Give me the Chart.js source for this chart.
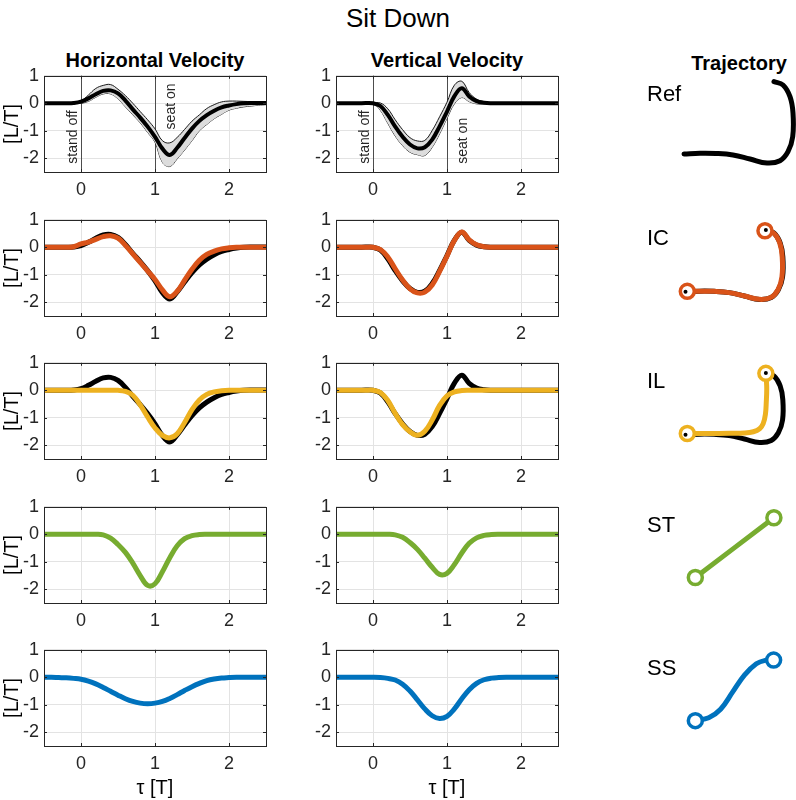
<!DOCTYPE html>
<html>
<head>
<meta charset="utf-8">
<script src="https://cdn.jsdelivr.net/npm/chart.js@4.4.1/dist/chart.umd.min.js"></script>
<style>
  body { margin: 0; background: #fff; width: 796px; height: 800px; position: relative; overflow: hidden;
         font-family: "Liberation Sans", Arial, sans-serif; color: #000; }
  canvas { position: absolute; }
  .t { position: absolute; white-space: nowrap; transform: translate(-50%, -50%); }
  .n { position: absolute; white-space: nowrap; transform: translate(0, -50%); font-size: 22px; }
</style>
</head>
<body>
<div class="t" style="left:398px;top:18px;font-size:26px">Sit Down</div>
<div class="t" style="left:155px;top:60px;font-size:20px;font-weight:bold">Horizontal Velocity</div>
<div class="t" style="left:447px;top:60px;font-size:20px;font-weight:bold">Vertical Velocity</div>
<div class="t" style="left:739px;top:63px;font-size:20px;font-weight:bold">Trajectory</div>

<script>
// time axis (normalised) and ticks
const tau = [-0.5,-0.4,-0.3,-0.2,-0.1,0,0.1,0.2,0.3,0.4,0.5,0.6,0.7,0.8,0.9,1,1.1,1.2,1.3,1.4,1.5,1.6,1.7,1.8,1.9,2,2.1,2.2,2.3,2.4,2.5];
const xTicks = [0, 1, 2];
const yTicks = [-2, -1, 0, 1];

// reference (mean + spread)
const hRef   = [0,0,0,0,0.01,0.06,0.18,0.33,0.45,0.47,0.36,0.1,-0.22,-0.52,-0.85,-1.22,-1.65,-1.88,-1.62,-1.26,-0.92,-0.64,-0.43,-0.27,-0.15,-0.08,-0.03,0,0.01,0.01,0.01];
const hUpper = [0,0,0,0,0.02,0.08,0.3,0.54,0.65,0.68,0.51,0.28,0,-0.3,-0.6,-0.93,-1.36,-1.44,-1.24,-0.95,-0.65,-0.42,-0.19,-0.05,0.05,0.08,0.08,0.07,0.06,0.05,0.05];
const hLower = [0,0,0,0,-0.01,0,0.07,0.22,0.34,0.34,0.16,-0.13,-0.42,-0.71,-1.06,-1.42,-2.15,-2.3,-2.02,-1.7,-1.36,-1.0,-0.77,-0.56,-0.4,-0.25,-0.18,-0.13,-0.1,-0.07,-0.05];
const vRef   = [0,0,0,0,0.01,0,-0.1,-0.42,-0.85,-1.22,-1.5,-1.64,-1.6,-1.32,-0.84,-0.3,0.26,0.55,0.25,0.08,0.02,0,0,0,0,0,0,0,0,0,0];
const vUpper = [0,0,0,0,0.01,0.01,0.01,-0.2,-0.6,-0.96,-1.25,-1.37,-1.35,-0.99,-0.49,0.04,0.66,0.8,0.39,0.15,0.06,0.01,0,0,0,0,0,0,0,0,0];
const vLower = [0,0,0,0,0,0,-0.26,-0.73,-1.19,-1.54,-1.78,-1.87,-1.9,-1.6,-1.11,-0.55,-0.02,0.21,0.06,-0.02,-0.02,-0.01,-0.01,-0.01,-0.01,-0.01,-0.01,-0.01,-0.01,-0.01,-0.01];

// models
const hIC = [0,0,0,0,0.02,0.12,0.19,0.29,0.39,0.42,0.33,0.07,-0.24,-0.55,-0.86,-1.17,-1.55,-1.8,-1.6,-1.2,-0.8,-0.47,-0.26,-0.14,-0.06,-0.02,0,0,0,0,0];
const vIC = [0,0,0,0,0,0,-0.08,-0.35,-0.78,-1.19,-1.51,-1.66,-1.63,-1.37,-0.88,-0.32,0.25,0.56,0.27,0.09,0.02,0,0,0,0,0,0,0,0,0,0];
const hIL = [0,0,0,0,0,0,0,0,0,0,0,-0.04,-0.18,-0.53,-0.97,-1.37,-1.64,-1.73,-1.58,-1.17,-0.7,-0.35,-0.15,-0.06,-0.02,0,0,0,0,0,0];
const vIL = [0,0,0,0,0,0,-0.08,-0.37,-0.84,-1.25,-1.51,-1.64,-1.49,-1.08,-0.55,-0.2,-0.06,-0.01,0,0,0,0,0,0,0,0,0,0,0,0,0];
const hST = [0,0,0,0,0,0,0,0,-0.02,-0.14,-0.37,-0.66,-1.05,-1.5,-1.86,-1.8,-1.36,-0.85,-0.42,-0.16,-0.05,-0.01,0,0,0,0,0,0,0,0,0];
const vST = [0,0,0,0,0,0,0,0,-0.02,-0.11,-0.3,-0.55,-0.87,-1.2,-1.46,-1.42,-1.1,-0.68,-0.33,-0.13,-0.04,-0.01,0,0,0,0,0,0,0,0,0];
const hSS = [0,0,-0.01,-0.02,-0.04,-0.07,-0.14,-0.24,-0.37,-0.51,-0.65,-0.78,-0.88,-0.94,-0.96,-0.94,-0.88,-0.77,-0.63,-0.48,-0.34,-0.22,-0.12,-0.06,-0.025,-0.01,0,0,0,0,0];
const vSS = [0,0,0,0,0,0,-0.01,-0.04,-0.1,-0.25,-0.5,-0.82,-1.15,-1.4,-1.5,-1.42,-1.15,-0.78,-0.45,-0.22,-0.09,-0.03,-0.01,0,0,0,0,0,0,0,0];

const eventTimes = [0, 1];
const eventNames = ["stand off", "seat on"];

// trajectories [L]
const refTrajX = [0, 0.16, 0.32, 0.49, 0.66, 0.83, 0.96, 1.04, 1.087, 1.09, 1.06, 0.99, 0.9];
const refTrajY = [0.09, 0.097, 0.095, 0.08, 0.04, 0, 0.023, 0.113, 0.263, 0.5, 0.663, 0.78, 0.813];
const icTrajX = [0.02, 0.16, 0.32, 0.49, 0.66, 0.83, 0.958, 1.036, 1.08, 1.083, 1.055, 0.988, 0.89];
const icTrajY = [0.095, 0.097, 0.095, 0.08, 0.04, 0.001, 0.024, 0.113, 0.263, 0.5, 0.663, 0.777, 0.805];
const ilTrajX = [0.02, 0.25, 0.49, 0.66, 0.76, 0.83, 0.87, 0.895, 0.905, 0.91, 0.905, 0.9];
const ilTrajY = [0.105, 0.105, 0.107, 0.11, 0.125, 0.16, 0.22, 0.33, 0.48, 0.63, 0.74, 0.81];
const stTrajX = [0.11, 0.99];
const stTrajY = [0.105, 0.805];
const ssTrajX = [0.11, 0.26, 0.393, 0.527, 0.66, 0.793, 0.893, 0.987];
const ssTrajY = [0.103, 0.137, 0.237, 0.437, 0.637, 0.77, 0.81, 0.813];

const colors = { Ref: "#000000", IC: "#D95319", IL: "#EDB120", ST: "#77AC30", SS: "#0072BD" };

const FONT = "'Liberation Sans', Arial, sans-serif";
const pts = ys => tau.map((t, i) => ({ x: t, y: ys[i] }));
const path = (xs, ys) => xs.map((x, i) => ({ x: x, y: ys[i] }));

// matlab style box + inward ticks
const boxPlugin = {
  id: "box",
  afterDatasetsDraw(chart) {
    const a = chart.chartArea, c = chart.ctx;
    const xs = chart.scales.x, ys = chart.scales.y;
    c.save();
    c.strokeStyle = "#262626";
    c.lineWidth = 1;
    c.strokeRect(Math.round(a.left) + 0.5, Math.round(a.top) + 0.5,
                 Math.round(a.right) - Math.round(a.left), Math.round(a.bottom) - Math.round(a.top));
    c.beginPath();
    xTicks.forEach(v => {
      const px = Math.round(xs.getPixelForValue(v)) + 0.5;
      c.moveTo(px, a.bottom); c.lineTo(px, a.bottom - 3);
      c.moveTo(px, a.top); c.lineTo(px, a.top + 3);
    });
    yTicks.forEach(v => {
      const py = Math.round(ys.getPixelForValue(v)) + 0.5;
      c.moveTo(a.left, py); c.lineTo(a.left + 3, py);
      c.moveTo(a.right, py); c.lineTo(a.right - 3, py);
    });
    c.stroke();
    c.restore();
  }
};

// event lines with rotated labels (first row only)
const eventPlugin = {
  id: "events",
  beforeDatasetsDraw(chart, args, opts) {
    const a = chart.chartArea, c = chart.ctx;
    const xs = chart.scales.x, ys = chart.scales.y;
    c.save();
    eventTimes.forEach((t, i) => {
      const px = Math.round(xs.getPixelForValue(t)) + 0.5;
      c.strokeStyle = "#4d4d4d";
      c.lineWidth = 1;
      c.beginPath(); c.moveTo(px, a.top); c.lineTo(px, a.bottom); c.stroke();
      c.save();
      const bx = i === 0 ? px - 5 : px + 19;
      c.translate(bx, ys.getPixelForValue(opts.labelY[i]));
      c.rotate(-Math.PI / 2);
      c.fillStyle = "#262626";
      c.font = "14px " + FONT;
      c.textAlign = "left";
      c.textBaseline = "alphabetic";
      c.fillText(eventNames[i], 0, 0);
      c.restore();
    });
    c.restore();
  }
};

function makeCanvas(left, top, w, h) {
  const cv = document.createElement("canvas");
  cv.width = w; cv.height = h;
  cv.style.left = left + "px"; cv.style.top = top + "px";
  cv.style.width = w + "px"; cv.style.height = h + "px";
  document.body.appendChild(cv);
  return cv;
}

function velocityChart(col, row, datasets, extra) {
  const plotTop = Math.round(72 + 143.5 * row);
  const last = row === 4;
  const xh = last ? 54 : 32;
  const cv = makeCanvas(col === 0 ? 0 : 292, plotTop - 12, 280, 12 + 100 + xh);
  new Chart(cv, {
    type: "line",
    data: { datasets: datasets },
    options: {
      responsive: false,
      animation: false,
      events: [],
      layout: { padding: { top: 12, right: 14, left: 0, bottom: 0 } },
      elements: {
        point: { radius: 0 },
        line: { tension: 0.4, borderCapStyle: "round", borderJoinStyle: "round" }
      },
      plugins: {
        legend: { display: false },
        tooltip: { enabled: false },
        events: extra ? extra : {}
      },
      scales: {
        x: {
          type: "linear", min: -0.5, max: 2.5,
          afterBuildTicks: s => { s.ticks = xTicks.map(v => ({ value: v })); },
          afterFit: s => { s.height = xh; },
          grid: { color: "#e3e3e3", drawTicks: false },
          border: { display: false },
          ticks: { padding: 7, color: "#262626", font: { size: 18, family: FONT } },
          title: { display: last, text: "\u03c4 [T]", color: "#000", padding: 0, font: { size: 20, family: FONT } }
        },
        y: {
          min: -2.5, max: 1,
          afterBuildTicks: s => { s.ticks = yTicks.map(v => ({ value: v })); },
          afterFit: s => { s.width = 44; },
          grid: { color: "#e3e3e3", drawTicks: false },
          border: { display: false },
          ticks: { padding: 5, color: "#262626", font: { size: 18, family: FONT } },
          title: { display: col === 0, text: "[L/T]", color: "#000", padding: 0, font: { size: 20, family: FONT } }
        }
      }
    },
    plugins: extra ? [eventPlugin, boxPlugin] : [boxPlugin]
  });
}

function refBand(mean, upper, lower) {
  return [
    { data: pts(mean), borderColor: "#000", borderWidth: 4, order: 0 },
    { data: pts(upper), borderColor: "#1a1a1a", borderWidth: 1, backgroundColor: "#dcdcdc", fill: "+1", order: 1 },
    { data: pts(lower), borderColor: "#1a1a1a", borderWidth: 1, order: 2 }
  ];
}
function model(ys, name, withRef) {
  const ds = [{ data: pts(ys), borderColor: colors[name], borderWidth: 5, order: 0 }];
  if (withRef) ds.push({ data: pts(withRef), borderColor: "#000", borderWidth: 5, order: 1 });
  return ds;
}

// row 1: reference
velocityChart(0, 0, refBand(hRef, hUpper, hLower), { labelY: [-2.2, -0.95] });
velocityChart(1, 0, refBand(vRef, vUpper, vLower), { labelY: [-2.2, -2.2] });
// model rows
velocityChart(0, 1, model(hIC, "IC", hRef));
velocityChart(1, 1, model(vIC, "IC", vRef));
velocityChart(0, 2, model(hIL, "IL", hRef));
velocityChart(1, 2, model(vIL, "IL", vRef));
velocityChart(0, 3, model(hST, "ST"));
velocityChart(1, 3, model(vST, "ST"));
velocityChart(0, 4, model(hSS, "SS"));
velocityChart(1, 4, model(vSS, "SS"));

// trajectories
function trajChart(row, name, xs, ys, showRef, dots) {
  const top = Math.round(40 + 143.5 * row);
  const cv = makeCanvas(600, top, 196, 143);
  const col = colors[name];
  const ds = [];
  if (name !== "Ref") {
    const p = path(xs, ys);
    if (dots) {
      const r = path(refTrajX, refTrajY);
      ds.push({ type: "scatter", data: [r[0], r[r.length - 1]], pointRadius: 2, pointBackgroundColor: "#000", pointBorderWidth: 0, showLine: false, order: 0 });
    }
    ds.push({ type: "scatter", data: [p[0], p[p.length - 1]], pointRadius: 7, pointBorderWidth: 3.5,
              pointBorderColor: col, pointBackgroundColor: "#fff", showLine: false, order: 1 });
    ds.push({ type: "scatter", data: p, showLine: true, borderColor: col, borderWidth: 5, pointRadius: 0, tension: 0.4, order: 2 });
  }
  if (showRef) {
    ds.push({ type: "scatter", data: path(refTrajX, refTrajY), showLine: true, borderColor: "#000", borderWidth: 5,
              pointRadius: 0, tension: 0.4, order: 3, borderCapStyle: "round" });
  }
  new Chart(cv, {
    type: "scatter",
    data: { datasets: ds },
    options: {
      responsive: false, animation: false, events: [],
      layout: { padding: 0 },
      clip: false,
      plugins: { legend: { display: false }, tooltip: { enabled: false } },
      scales: {
        x: { type: "linear", display: false, min: -0.84, max: 1.12 },
        y: { type: "linear", display: false, min: -0.2, max: 1.23 }
      }
    }
  });
  const lbl = document.createElement("div");
  lbl.className = "n";
  lbl.textContent = name;
  lbl.style.left = "647px";
  lbl.style.top = Math.round(94 + 143.5 * row) + "px";
  document.body.appendChild(lbl);
}

trajChart(0, "Ref", refTrajX, refTrajY, true, false);
trajChart(1, "IC", icTrajX, icTrajY, true, true);
trajChart(2, "IL", ilTrajX, ilTrajY, true, true);
trajChart(3, "ST", stTrajX, stTrajY, false, false);
trajChart(4, "SS", ssTrajX, ssTrajY, false, false);
</script>
</body>
</html>
